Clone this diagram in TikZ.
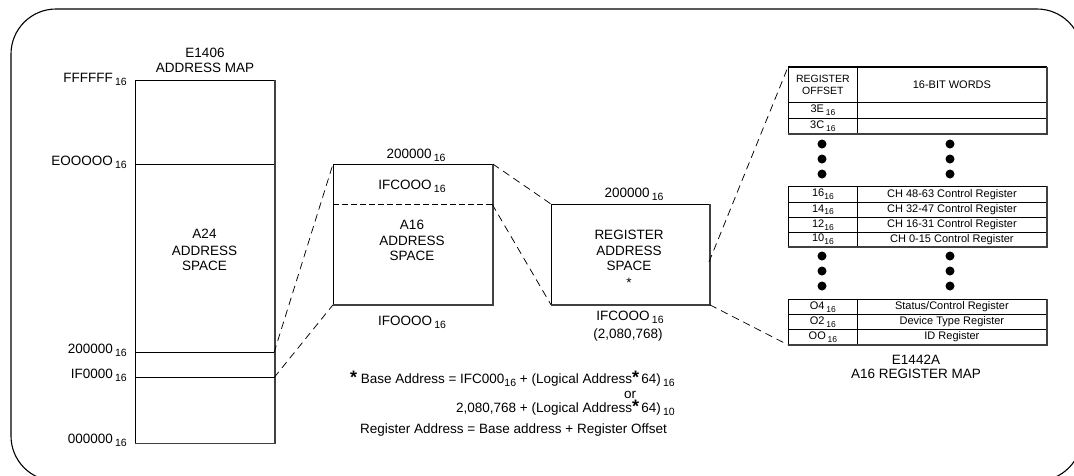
\documentclass[tikz,border=0pt]{standalone}
\usepackage{fontspec}
\setmainfont{Liberation Sans}
\newcommand\sbx[1]{\raisebox{-0.45ex}{\fontsize{10.5}{12}\selectfont #1}}
\newcommand\sbt[1]{\raisebox{-0.45ex}{\fontsize{8.5}{10}\selectfont #1}}
\newcommand\astx{{\fontsize{18}{18}\selectfont\textbf{*}}}
\begin{document}
\begin{tikzpicture}[x=1pt,y=-1pt,
  lbl/.style={inner sep=0pt, font=\fontsize{13.5}{16}\selectfont},
  tbl/.style={inner sep=0pt, font=\fontsize{11}{13}\selectfont},
  box/.style={draw, line width=0.8pt, inner sep=0pt},
  cell/.style={draw, line width=0.8pt, inner sep=0pt, anchor=north west, font=\fontsize{11}{13}\selectfont},
  heavy/.style={line width=1.8pt, black!75},
  conn/.style={line width=0.75pt, dash pattern=on 7.5pt off 5pt},
  dot/.style={circle, fill, inner sep=0pt, minimum size=9pt}]

\useasboundingbox (0,0) rectangle (1074,475);
\begin{scope}
  \clip (0,0) rectangle (1074,475);
  \draw[line width=1.1pt, rounded corners=45pt] (11,9) rectangle (1082,481);
\end{scope}

% ---------- E1406 address map ----------
\node[box, minimum width=139pt, minimum height=362.7pt, anchor=north west] (a24) at (135,80) {};
\draw[heavy] (a24.north east) -- (a24.south east) -- (a24.south west);
\coordinate (e0l) at (135,164);   \coordinate (e0r) at (274,164);
\coordinate (l2l) at (135,352.7); \coordinate (l2r) at (274,352.7);
\coordinate (l1l) at (135,377.7); \coordinate (l1r) at (274,377.7);
\draw[line width=0.8pt] (e0l) -- (e0r);
\draw[line width=0.8pt] (l2l) -- (l2r);
\draw[line width=0.8pt] (l1l) -- (l1r);

\node[lbl, anchor=base] (tE1) at (205,57) {E1406};
\node[lbl, anchor=base] (tE2) at (205,72) {ADDRESS MAP};
\node[lbl, anchor=base east] (tFF) at (127,82) {FFFFFF\,\sbx{16}};
\node[lbl, anchor=base east] (tE0) at (127,165) {EOOOOO\,\sbx{16}};
\node[lbl, anchor=base east] (t20) at (127,353) {200000\,\sbx{16}};
\node[lbl, anchor=base east] (tIF) at (127,378) {IF0000\,\sbx{16}};
\node[lbl, anchor=base east] (t00) at (127,443) {000000\,\sbx{16}};
\node[lbl, anchor=base] (tA1) at (204.5,238.5) {A24};
\node[lbl, anchor=base] (tA2) at (204.5,255) {ADDRESS};
\node[lbl, anchor=base] (tA3) at (204.5,270.7) {SPACE};

% ---------- A16 address space ----------
\node[box, minimum width=159pt, minimum height=140pt, anchor=north west] (a16) at (333,164) {};
\draw[heavy] (a16.north east) -- (a16.south east) -- (a16.south west);
\coordinate (m1) at (333,204); \coordinate (m2) at (492,204);
\draw[line width=0.8pt, dash pattern=on 6pt off 3pt] (m1) -- (m2);
\node[lbl, anchor=base] (tM0) at (416,158) {200000\,\sbx{16}};
\node[lbl, anchor=base] (tM1) at (412,189) {IFCOOO\,\sbx{16}};
\node[lbl, anchor=base] (tM2) at (412,229) {A16};
\node[lbl, anchor=base] (tM3) at (412,245) {ADDRESS};
\node[lbl, anchor=base] (tM4) at (412,260.7) {SPACE};
\node[lbl, anchor=base] (tM5) at (412,325) {IFOOOO\,\sbx{16}};

% ---------- register address space ----------
\node[box, minimum width=158pt, minimum height=100pt, anchor=north west] (reg) at (551,204) {};
\draw[heavy] (reg.north east) -- (reg.south east) -- (reg.south west);
\coordinate (rr) at (709,262);
\node[lbl, anchor=base] (tR0) at (634,197) {200000\,\sbx{16}};
\node[lbl, anchor=base] (tR1) at (629,239) {REGISTER};
\node[lbl, anchor=base] (tR2) at (629,255) {ADDRESS};
\node[lbl, anchor=base] (tR3) at (629,270.7) {SPACE};
\node[lbl, anchor=base] (tR4) at (629,287) {*};
\node[lbl, anchor=base] (tR5) at (630,320) {IFCOOO\,\sbx{16}};
\node[lbl, anchor=base] (tR6) at (628,338) {(2,080,768)};

% ---------- register map table ----------
% group 1
\node[cell, minimum width=69pt, minimum height=35pt, align=center, font=\fontsize{10.5}{12.5}\selectfont] (hL) at (788,67) {REGISTER\\OFFSET};
\node[cell, minimum width=189pt, minimum height=35pt] (hR) at (857,67) {16-BIT WORDS};
\node[cell, minimum width=69pt, minimum height=16pt] (c3EL) at (788,102) {3E\,\sbt{16}};
\node[cell, minimum width=189pt, minimum height=16pt] (c3ER) at (857,102) {};
\node[cell, minimum width=69pt, minimum height=15pt] (c3CL) at (788,118) {3C\,\sbt{16}};
\node[cell, minimum width=189pt, minimum height=15pt] (c3CR) at (857,118) {};
\draw[line width=1.3pt] (hL.north west) -- (hR.north east);
\draw[line width=1.3pt] (hL.south west) -- (hR.south east);
\draw[heavy] (hR.north east) -- (c3CR.south east) -- (c3CL.south west);

\node[dot] (d1a) at (822,144) {}; \node[dot] (d1b) at (822,159) {}; \node[dot] (d1c) at (822,174) {};
\node[dot] (d1d) at (950,144) {}; \node[dot] (d1e) at (950,159) {}; \node[dot] (d1f) at (950,174) {};

% group 2
\node[cell, minimum width=69pt, minimum height=16pt] (c16L) at (788,186) {16\sbt{16}};
\node[cell, minimum width=189pt, minimum height=16pt] (c16R) at (857,186) {CH 48-63 Control Register};
\node[cell, minimum width=69pt, minimum height=15pt] (c14L) at (788,202) {14\sbt{16}};
\node[cell, minimum width=189pt, minimum height=15pt] (c14R) at (857,202) {CH 32-47 Control Register};
\node[cell, minimum width=69pt, minimum height=15pt] (c12L) at (788,217) {12\sbt{16}};
\node[cell, minimum width=189pt, minimum height=15pt] (c12R) at (857,217) {CH 16-31 Control Register};
\node[cell, minimum width=69pt, minimum height=14pt] (c10L) at (788,232) {10\sbt{16}};
\node[cell, minimum width=189pt, minimum height=14pt] (c10R) at (857,232) {CH 0-15 Control Register};
\draw[heavy] (c16R.north east) -- (c10R.south east) -- (c10L.south west);

\node[dot] (d2a) at (822,256) {}; \node[dot] (d2b) at (822,271) {}; \node[dot] (d2c) at (822,286) {};
\node[dot] (d2d) at (950,256) {}; \node[dot] (d2e) at (950,271) {}; \node[dot] (d2f) at (950,286) {};

% group 3
\node[cell, minimum width=69pt, minimum height=15pt] (c04L) at (788,299) {O4\,\sbt{16}};
\node[cell, minimum width=189pt, minimum height=15pt] (c04R) at (857,299) {Status/Control Register};
\node[cell, minimum width=69pt, minimum height=15pt] (c02L) at (788,314) {O2\,\sbt{16}};
\node[cell, minimum width=189pt, minimum height=15pt] (c02R) at (857,314) {Device Type Register};
\node[cell, minimum width=69pt, minimum height=15pt] (c00L) at (788,329) {OO\,\sbt{16}};
\node[cell, minimum width=189pt, minimum height=15pt] (c00R) at (857,329) {ID Register};
\draw[heavy] (c04R.north east) -- (c00R.south east) -- (c00L.south west);

\node[lbl, anchor=base] (tT1) at (916,364) {E1442A};
\node[lbl, anchor=base] (tT2) at (916,378) {A16 REGISTER MAP};

% ---------- connectors ----------
\draw[conn] (l2r) -- (a16.north west);
\draw[conn] (l1r) -- (a16.south west);
\draw[conn] (a16.north east) -- (reg.north west);
\draw[conn] (m2) -- (reg.south west);
\draw[conn] (rr) -- (hL.north west);
\draw[conn] (reg.south east) -- (c00L.south west);

% ---------- footnote ----------
\node[lbl, anchor=base east] (fn1) at (675,383) {\astx\ Base Address = IFC000\sbx{16} + (Logical Address\astx\,64)\,\sbx{16}};
\node[lbl, anchor=base] (fn2) at (630,398) {or};
\node[lbl, anchor=base east] (fn3) at (675,412) {2,080,768 + (Logical Address\astx\,64)\,\sbx{10}};
\node[lbl, anchor=base west] (fn4) at (360,433) {Register Address = Base address + Register Offset};
\end{tikzpicture}
\end{document}
